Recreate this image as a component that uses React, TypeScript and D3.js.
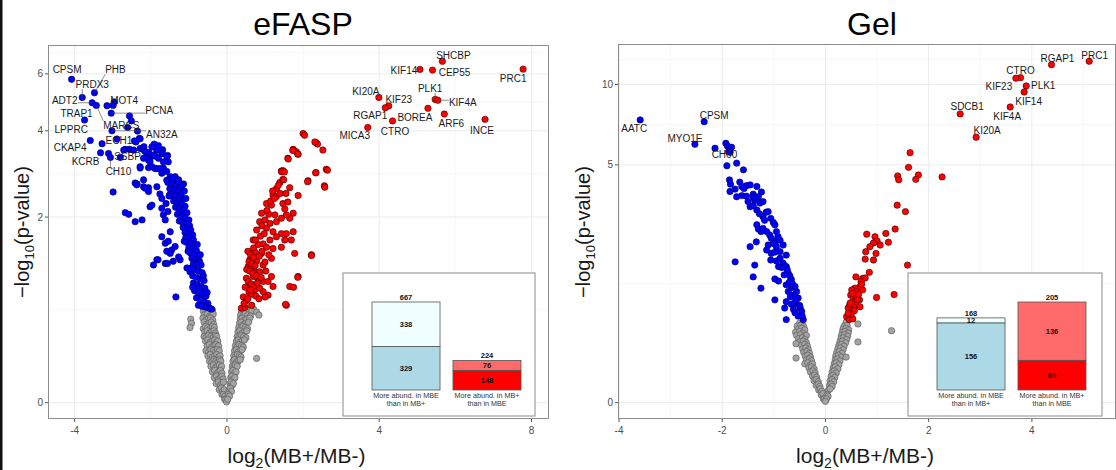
import {useEffect, useRef} from 'react';
import * as d3 from 'd3';

// eFASP: blue = more abundant in MB-, red = more abundant in MB+, grey = not significant
const efaspDown = [
	[-3.15,4.80],[-2.96,4.93],[-2.56,4.46],[-2.51,4.30],[-2.61,4.10],[-2.35,3.99],[-2.30,3.78],[-2.43,3.71],[-2.39,3.68],[-2.80,3.27],
	[-2.67,3.48],[-2.56,3.48],[-2.28,3.50],[-2.19,3.47],[-1.88,3.52],[-1.69,3.47],[-1.56,3.32],[-1.88,3.30],[-2.01,3.28],[-2.11,3.29],
	[-2.28,3.01],[-2.06,3.02],[-1.84,3.00],[-1.67,3.01],[-2.36,2.65],[-2.19,2.59],[-2.06,2.57],[-1.84,2.59],[-1.58,2.73],[-1.40,2.77],
	[-1.32,2.70],[-1.14,2.65],[-2.99,2.48],[-1.76,2.44],[-1.50,2.43],[-1.91,3.62],[-2.18,3.55],[-1.80,3.58],[-2.05,3.40],[-1.70,3.38],
	[-2.71,3.46],[-2.45,3.46],[-2.28,3.77],[-2.19,3.50],[-2.15,3.42],[-1.97,3.55],[-1.84,3.46],[-1.93,3.33],[-1.71,3.37],[-1.80,3.25],
	[-1.58,3.29],[-1.67,3.16],[-1.54,3.16],[-2.28,3.04],[-2.19,3.25],[-2.06,3.20],[-2.02,3.16],[-1.97,3.04],[-1.89,3.00],[-1.75,3.00],
	[-1.71,2.89],[-1.58,2.93],[-1.49,2.81],[-1.45,2.78],[-1.41,2.70],[-1.36,2.81],[-1.27,2.74],[-1.23,2.63],[-2.41,2.67],[-2.19,2.74],
	[-2.15,2.56],[-2.06,2.49],[-2.37,2.63],[-2.67,2.08],[-2.58,2.05],[-2.41,1.92],[-2.23,1.95],[-2.02,2.19],[-1.97,2.22],[-1.71,2.35],
	[-1.71,2.16],[-1.67,2.04],[-1.62,1.95],
	[-1.55,2.68],[-1.45,2.65],[-1.35,2.62],[-1.25,2.58],[-1.50,2.55],[-1.40,2.52],[-1.30,2.48],[-1.20,2.45],[-1.45,2.42],[-1.35,2.40],
	[-1.25,2.36],[-1.15,2.33],[-1.40,2.30],[-1.30,2.27],[-1.20,2.24],[-1.10,2.20],[-1.35,2.18],[-1.25,2.15],[-1.15,2.12],[-1.05,2.08],
	[-1.30,2.05],[-1.20,2.02],[-1.10,1.98],[-1.00,1.95],[-1.25,1.93],[-1.15,1.90],[-1.05,1.88],[-0.98,1.85],[-1.52,2.40],[-1.60,2.25],
	[-1.12,2.50],[-1.18,2.62],[-1.42,2.78],[-1.28,2.70],[-1.08,2.35],[-1.55,2.10],
	[-1.15,1.82],[-1.05,1.80],[-0.95,1.78],[-1.10,1.74],[-1.00,1.72],[-0.90,1.70],[-1.08,1.66],[-0.98,1.64],[-0.88,1.62],[-1.05,1.58],
	[-0.95,1.56],[-0.85,1.54],[-1.00,1.50],[-0.90,1.48],[-0.80,1.46],[-0.95,1.42],[-0.85,1.40],[-0.75,1.38],[-0.92,1.35],[-0.82,1.33],
	[-0.72,1.31],[-0.88,1.28],[-0.78,1.27],[-0.68,1.26],[-1.02,1.45],[-1.12,1.60],[-0.70,1.40],[-0.78,1.55],
	[-1.71,1.67],[-1.62,1.57],[-1.54,1.60],[-1.49,1.75],[-1.45,1.47],[-1.36,1.52],[-1.58,1.45],[-1.49,1.42],[-1.84,1.33],[-1.93,1.26],
	[-1.62,1.28],[-1.41,1.31],[-1.23,1.33],[-1.27,1.37],[-1.05,1.22],[-0.97,1.17],[-1.81,1.33],[-1.56,1.28],[-1.34,0.87],
	[-0.95,1.22],[-0.85,1.20],[-0.75,1.18],[-0.65,1.16],[-0.90,1.12],[-0.80,1.10],[-0.70,1.08],[-0.60,1.06],[-0.88,1.03],[-0.78,1.01],
	[-0.68,0.99],[-0.58,0.97],[-0.85,0.94],[-0.75,0.92],[-0.65,0.90],[-0.55,0.88],[-0.80,0.86],[-0.70,0.84],[-0.60,0.82],[-0.50,0.80],
	[-0.75,0.78],[-0.65,0.77],[-0.55,0.76],[-0.45,0.75],[-0.40,0.74],[-0.90,0.98],[-0.62,1.12],[-0.52,0.92],[-0.72,0.96]
];
const efaspUp = [
	[2.00,3.92],[2.04,3.87],[2.34,3.66],[2.38,3.62],[2.52,3.46],[1.74,3.48],[1.82,3.42],[1.87,3.35],[1.60,3.25],[2.61,2.98],
	[2.34,2.90],[2.13,2.72],[2.56,2.61],[1.43,2.94],[1.47,2.95],[1.39,2.68],[1.47,2.75],[1.65,2.57],[1.21,2.42],[1.30,2.39],
	[1.87,2.41],[1.04,2.25],[1.17,2.22],[1.47,2.25],[1.60,2.28],[1.74,2.07],[1.65,1.98],[1.56,2.04],[1.43,1.98],[1.26,2.04],
	[0.91,2.07],[0.86,1.92],[1.13,1.89],[1.30,1.92],[1.04,1.81],[0.78,1.78],[1.21,1.75],[1.43,1.72],[1.56,1.72],[1.74,1.75],
	[1.69,1.62],[1.52,1.62],[1.30,1.67],[1.13,1.62],[0.69,1.62],[0.95,1.56],[1.04,1.51],[1.43,1.51],[1.21,1.49],[1.78,1.42],
	[2.22,1.40],[0.73,1.44],[0.91,1.42],[1.17,1.35],[0.60,1.33],[0.78,1.31],[0.95,1.26],[0.56,1.24],[0.65,1.22],[0.73,1.17],
	[0.86,1.17],[0.51,1.09],[0.69,1.11],[0.82,1.07],[0.95,1.05],[1.08,1.05],[1.17,1.11],[1.21,0.99],[1.87,1.11],[1.65,0.99],
	[0.60,0.99],[0.73,0.95],[0.95,0.93],[1.08,0.89],[0.43,0.87],[0.51,0.83],[0.65,0.78],[1.56,0.78],[0.38,0.75],[0.47,0.76],
	[1.00,0.87],[0.86,0.97],
	[2.31,3.68],[1.73,3.45],[1.86,3.36],[1.61,3.23],[2.64,2.96],[2.33,2.90],[2.12,2.70],[2.57,2.58],[1.44,2.92],[1.51,2.92],
	[1.49,2.74],[2.22,1.39],[1.86,1.10],[1.75,0.98],[1.54,0.79],
	[0.55,1.45],[0.62,1.40],[0.70,1.36],[0.58,1.30],[0.66,1.28],[0.74,1.25],[0.52,1.20],[0.60,1.18],[0.68,1.15],[0.78,1.12],
	[0.56,1.05],[0.64,1.02],[0.72,1.00],[0.80,1.03],[0.48,0.98],[0.58,0.92],[0.66,0.90],[0.76,0.88],[0.84,0.85],[0.90,1.10],
	[0.70,1.50],[0.82,1.55],[0.88,1.68],[0.98,1.72],[0.75,1.62],[0.92,1.85],[1.00,1.95],[1.10,2.05],[1.05,2.12],[1.15,2.30],
	[1.25,2.35],[1.30,2.55],[1.35,2.62],[1.20,2.50],[1.40,2.45],[1.55,2.45],[1.52,2.15],[1.10,1.40],[1.00,1.30],[0.85,1.38],
	[1.02,1.18],[0.92,1.45],[0.45,0.80],[0.55,0.85],[0.62,0.95]
];
const efaspNs = [
	[-0.62,0.72],[-0.55,0.73],[-0.48,0.71],[-0.42,0.72],[-0.38,0.73],
	[-0.60,0.68],[-0.52,0.69],[-0.45,0.67],[-0.40,0.68],[-0.36,0.69],
	[-0.95,0.64],[-0.63,0.65],[-0.56,0.63],[-0.49,0.64],[-0.43,0.65],[-0.37,0.63],
	[-0.93,0.60],[-0.60,0.61],[-0.53,0.59],[-0.47,0.60],[-0.41,0.61],[-0.35,0.59],
	[-0.97,0.56],[-0.62,0.55],[-0.56,0.57],[-0.50,0.56],[-0.44,0.55],[-0.38,0.57],[-0.33,0.56],
	[-0.58,0.52],[-0.52,0.53],[-0.46,0.51],[-0.40,0.52],[-0.34,0.53],[-0.30,0.51],
	[-0.60,0.48],[-0.55,0.47],[-0.48,0.49],[-0.42,0.48],[-0.36,0.47],[-0.30,0.49],[-0.27,0.48],
	[-0.56,0.44],[-0.50,0.45],[-0.44,0.43],[-0.38,0.44],[-0.32,0.45],[-0.27,0.43],[-0.24,0.44],
	[-0.52,0.40],[-0.46,0.41],[-0.40,0.39],[-0.34,0.40],[-0.29,0.41],[-0.24,0.39],[-0.22,0.40],
	[-0.55,0.36],[-0.48,0.35],[-0.42,0.37],[-0.36,0.36],[-0.30,0.35],[-0.25,0.37],[-0.20,0.36],
	[-0.50,0.32],[-0.44,0.33],[-0.38,0.31],[-0.32,0.32],[-0.27,0.33],[-0.22,0.31],[-0.18,0.32],
	[-0.46,0.28],[-0.40,0.27],[-0.34,0.29],[-0.29,0.28],[-0.24,0.27],[-0.19,0.29],[-0.16,0.28],
	[-0.42,0.24],[-0.36,0.25],[-0.30,0.23],[-0.25,0.24],[-0.20,0.25],[-0.16,0.23],[-0.14,0.24],
	[-0.38,0.20],[-0.32,0.21],[-0.26,0.19],[-0.21,0.20],[-0.17,0.21],[-0.13,0.19],
	[-0.33,0.16],[-0.27,0.17],[-0.22,0.15],[-0.17,0.16],[-0.13,0.17],[-0.10,0.15],
	[-0.28,0.12],[-0.22,0.13],[-0.17,0.11],[-0.13,0.12],[-0.09,0.13],
	[-0.20,0.08],[-0.15,0.09],[-0.11,0.07],[-0.07,0.08],
	[-0.13,0.05],[-0.09,0.05],[-0.05,0.04],
	[-0.06,0.02],[-0.03,0.02],[-0.01,0.005],
	[0.40,0.74],[0.45,0.73],[0.52,0.74],[0.60,0.73],[0.70,0.74],
	[0.38,0.71],[0.44,0.72],[0.50,0.70],[0.57,0.71],[0.65,0.72],[0.78,0.71],
	[0.36,0.68],[0.42,0.67],[0.48,0.69],[0.55,0.68],[0.62,0.67],[0.84,0.68],
	[0.35,0.64],[0.40,0.65],[0.46,0.63],[0.52,0.64],[0.60,0.65],
	[0.33,0.60],[0.38,0.61],[0.44,0.59],[0.50,0.60],[0.57,0.61],
	[0.31,0.56],[0.36,0.55],[0.42,0.57],[0.48,0.56],[0.54,0.55],
	[0.29,0.52],[0.34,0.53],[0.40,0.51],[0.46,0.52],[0.52,0.53],
	[0.27,0.48],[0.32,0.47],[0.38,0.49],[0.44,0.48],[0.50,0.47],
	[0.25,0.44],[0.30,0.45],[0.35,0.43],[0.41,0.44],[0.46,0.45],
	[0.22,0.40],[0.27,0.39],[0.32,0.41],[0.38,0.40],[0.43,0.39],
	[0.20,0.36],[0.25,0.37],[0.30,0.35],[0.35,0.36],[0.40,0.37],
	[0.18,0.32],[0.23,0.31],[0.28,0.33],[0.33,0.32],[0.37,0.31],[0.78,0.30],
	[0.16,0.28],[0.20,0.29],[0.25,0.27],[0.30,0.28],[0.35,0.29],
	[0.14,0.24],[0.18,0.23],[0.22,0.25],[0.27,0.24],
	[0.12,0.20],[0.16,0.21],[0.20,0.19],[0.24,0.20],
	[0.10,0.16],[0.13,0.17],[0.17,0.15],[0.21,0.16],
	[0.08,0.12],[0.11,0.13],[0.14,0.11],[0.17,0.12],
	[0.06,0.08],[0.09,0.09],[0.12,0.07],
	[0.04,0.05],[0.07,0.04],[0.02,0.02]
];
const efaspLabeled = [
	['CPSM',-4.08,5.78],['PHB',-3.48,5.26],['PRDX3',-3.80,5.09],['ADT2',-3.54,4.90],['MARCS',-3.43,4.81],
	['MOT4',-2.99,4.81],['PCNA',-3.04,4.55],['TRAP1',-3.74,4.33],['LPPRC',-3.59,3.72],['CKAP4',-3.28,3.63],
	['KCRB',-3.32,3.39],['AN32A',-3.02,4.00],['ECH1',-2.89,3.76],['SSBP',-3.11,3.37],['CH10',-3.06,3.27],
	['SHCBP',5.66,6.54],['KIF14',5.07,6.19],['CEP55',5.40,6.16],['PRC1',7.78,6.20],['KI20A',3.99,5.09],
	['KIF23',4.25,4.79],['RGAP1',4.16,4.73],['PLK1',5.47,5.02],['KIF4A',5.54,4.99],['BOREA',5.28,4.71],
	['ARF6',5.71,4.52],['CTRO',4.35,4.30],['INCE',6.78,4.35],['MICA3',3.70,4.10]
];

// Gel
const gelDown = [
	[-2.14,5.80],[-1.93,6.06],[-1.90,5.92],[-1.82,5.85],[-1.85,5.60],[-1.91,4.96],[-1.72,5.08],[-1.59,4.78],[-1.86,4.36],[-1.84,4.19],
	[-1.85,3.91],[-1.75,4.00],[-1.66,4.27],[-1.62,4.10],[-1.53,4.13],[-1.46,4.16],[-1.33,4.10],[-1.24,3.89],[-1.72,3.72],[-1.62,3.76],
	[-1.53,3.74],[-1.40,3.81],[-1.37,3.60],[-1.30,3.72],[-1.50,3.55],[-1.46,3.38],[-1.40,3.41],[-1.27,3.50],[-1.21,3.55],[-1.33,3.27],
	[-1.15,3.20],[-1.11,3.22],[-1.06,3.01],[-1.21,3.06],[-1.01,2.89],[-0.98,2.82],[-1.33,2.82],[-1.30,2.70],[-1.25,2.63],[-1.21,2.72],
	[-1.14,2.63],[-1.08,2.54],[-0.95,2.63],[-1.05,2.45],[-0.98,2.36],[-1.11,2.28],[-1.01,2.32],[-0.95,2.24],[-0.82,2.28],[-1.34,2.36],
	[-1.46,2.24],[-1.14,2.16],[-1.05,2.08],[-0.98,2.11],[-0.88,2.12],[-0.76,2.04],[-1.06,1.93],[-0.95,1.91],[-0.88,1.97],[-0.82,1.86],
	[-0.91,1.79],[-0.85,1.77],[-0.76,1.79],[-1.75,1.89],[-1.37,1.82],[-1.40,1.58],[-1.25,1.37],[-0.98,1.54],[-0.91,1.50],[-0.72,1.65],
	[-0.69,1.60],[-0.66,1.53],[-0.76,1.43],[-0.66,1.38],[-0.59,1.40],[-0.56,1.31],[-0.72,1.31],[-0.62,1.25],[-0.53,1.20],[-0.98,1.17],
	[-0.76,1.14],[-0.56,1.11],[-0.49,1.04],[-0.62,1.02],[-0.46,0.99],[-0.79,1.04],[-0.59,0.97],[-0.43,0.87],[-0.76,0.87],[-0.53,0.92],
	[-0.70,1.48],[-0.64,1.45],[-0.80,1.62],[-0.74,1.72],[-0.68,1.22],[-0.50,1.08],[-0.58,1.16],[-0.88,2.40],[-0.92,2.50],[-1.18,2.95],
	[-1.28,3.15],[-1.40,3.70],[-1.58,4.02],[-0.66,1.10],[-0.45,0.92]
];
const gelUp = [
	[1.64,5.58],[1.61,4.89],[1.40,4.52],[1.42,4.36],[1.80,4.56],[1.75,4.38],[2.26,4.48],[1.39,3.43],[1.55,3.22],[1.35,2.70],
	[1.17,2.58],[1.22,2.35],[0.80,2.56],[0.96,2.49],[1.00,2.38],[0.93,2.33],[0.86,2.24],[1.06,2.28],[0.98,2.08],[0.78,2.12],
	[0.93,1.93],[0.77,1.95],[1.59,1.82],[0.85,1.67],[0.72,1.55],[0.77,1.56],[0.69,1.49],[0.59,1.58],[0.67,1.40],[0.57,1.37],
	[0.51,1.34],[0.49,1.25],[0.54,1.20],[0.60,1.22],[0.57,1.14],[0.66,1.17],[0.59,1.09],[0.67,1.06],[0.54,1.06],[0.44,1.04],
	[0.49,0.91],[0.41,0.91],[0.46,0.87],[0.53,0.88],[0.99,1.21],[1.33,1.26],[0.47,1.09],[0.60,1.31],[0.72,1.34],
	[0.52,1.28],[0.62,1.18],[0.48,1.12],[0.56,1.00],[0.64,1.26],[0.70,1.44],[0.50,0.95],[0.44,0.96]
];
const gelNs = [
	[-0.50,0.82],[-0.45,0.81],[0.40,0.83],[0.63,0.81],
	[-0.55,0.78],[-0.48,0.79],[-0.42,0.77],[0.36,0.78],[0.42,0.79],
	[-0.52,0.74],[-0.46,0.75],[-0.40,0.73],[0.34,0.74],[0.40,0.75],[0.45,0.73],[1.28,0.72],
	[-0.58,0.70],[-0.50,0.71],[-0.44,0.69],[0.33,0.70],[0.38,0.71],[0.44,0.69],
	[-0.56,0.66],[-0.48,0.67],[-0.42,0.65],[-0.37,0.66],[0.31,0.66],[0.37,0.67],[0.43,0.65],
	[-0.52,0.62],[-0.45,0.63],[-0.40,0.61],[0.30,0.62],[0.35,0.63],[0.41,0.61],
	[-0.50,0.58],[-0.43,0.59],[-0.37,0.57],[0.28,0.58],[0.33,0.59],[0.39,0.57],[0.63,0.58],[-0.57,0.56],
	[-0.46,0.54],[-0.40,0.55],[-0.35,0.53],[0.26,0.54],[0.31,0.55],[0.36,0.53],
	[-0.44,0.50],[-0.38,0.51],[-0.33,0.49],[0.24,0.50],[0.29,0.51],[0.34,0.49],
	[-0.42,0.46],[-0.36,0.47],[-0.31,0.45],[0.22,0.46],[0.27,0.47],[0.32,0.45],
	[-0.39,0.42],[-0.34,0.43],[-0.29,0.41],[0.20,0.42],[0.25,0.43],[0.30,0.41],[-0.57,0.40],[0.40,0.41],
	[-0.37,0.38],[-0.31,0.39],[-0.27,0.37],[0.19,0.38],[0.23,0.39],[0.28,0.37],
	[-0.40,0.34],[-0.34,0.35],[-0.29,0.33],[-0.25,0.34],[0.17,0.34],[0.21,0.35],[0.26,0.33],
	[-0.32,0.30],[-0.27,0.31],[-0.22,0.29],[0.15,0.30],[0.19,0.31],[0.24,0.29],
	[-0.29,0.26],[-0.24,0.27],[-0.20,0.25],[0.13,0.26],[0.17,0.27],[0.21,0.25],
	[-0.25,0.22],[-0.21,0.23],[-0.17,0.21],[0.11,0.22],[0.15,0.23],[0.18,0.21],
	[-0.22,0.18],[-0.18,0.19],[-0.14,0.17],[0.09,0.18],[0.13,0.19],[0.16,0.17],
	[-0.18,0.14],[-0.14,0.15],[-0.11,0.13],[0.08,0.14],[0.11,0.15],[0.13,0.13],
	[-0.13,0.10],[-0.10,0.11],[-0.07,0.09],[0.06,0.10],[0.09,0.11],
	[-0.08,0.06],[-0.05,0.07],[0.03,0.06],[0.05,0.05],
	[-0.04,0.03],[-0.02,0.03],[0.02,0.03],[0.00,0.01]
];
const gelLabeled = [
	['AATC',-3.59,7.42],['CPSM',-2.35,7.31],['MYO1E',-2.53,6.01],['CH60',-1.88,5.63],
	['PRC1',5.11,12.1],['RGAP1',4.38,11.77],['CTRO',3.78,10.58],['KIF23',3.69,10.53],['PLK1',3.89,9.88],
	['KIF14',3.85,9.39],['KIF4A',3.58,8.28],['SDCB1',2.61,7.81],['KI20A',2.92,6.39]
];

// inset bar charts
const insetCats = ['More abund. in MBE|than in MB+', 'More abund. in MB+|than in MBE'];
const efaspSig = [329, 148];
const efaspRest = [338, 76];
const gelSig = [156, 69];
const gelRest = [12, 136];

// axis ticks
const efaspXTicks = [-4, 0, 4, 8];
const efaspYTicks = [0, 2, 4, 6];
const gelXTicks = [-4, -2, 0, 2, 4];
const gelYTicks = [0, 5, 10];

// label placement (px offset of the label centre from its point, and whether a segment is drawn)
const efaspLabelPos = {
	CPSM: [-4.5, -10, 0], PHB: [21, -23, 1], PRDX3: [10, -13, 1], ADT2: [-27.5, -2.7, 1], MARCS: [25, 20, 1]
	, MOT4: [11, -5, 0], PCNA: [48, -3, 1], TRAP1: [-8, -6, 0], LPPRC: [-19, -11, 0], CKAP4: [-32, 4, 0]
	, KCRB: [-15, 9, 0], AN32A: [50, 4, 1], ECH1: [2, 1, 0], SSBP: [19, 3, 0], CH10: [8, 14, 1]
	, SHCBP: [11, -6, 0], KIF14: [-16, 1, 0], CEP55: [22, 2, 0], PRC1: [-10, 9, 0], KI20A: [-13, -6, 0]
	, KIF23: [10, -6, 0], RGAP1: [-15, 8, 0], PLK1: [-5, -11, 1], KIF4A: [25, 2, 1], BOREA: [-13, 9, 0]
	, ARF6: [7, 9, 0], CTRO: [2.5, 11, 0], INCE: [-3, 11, 0], MICA3: [-13, 8, 0]
};
const gelLabelPos = {
	AATC: [-6, 9, 0], CPSM: [10, -6, 0], MYO1E: [-10, -6, 0], CH60: [-4, 3, 0]
	, PRC1: [5.5, -6, 0], RGAP1: [6, -6, 0], CTRO: [0, -7, 0], KIF23: [-17, 8, 0], PLK1: [17, 0, 0]
	, KIF14: [4.5, 9, 0], KIF4A: [-3, 9, 0], SDCB1: [7, -7, 0], KI20A: [11, -7, 0]
};

const FONT = '"Liberation Sans", Arial, Helvetica, sans-serif';

function renderPanel(svg, o){
	let [x0, y0, x1, y1] = o.box
		, x = d3.scaleLinear().domain(o.xDomain).range([x0, x1])
		, y = d3.scaleSymlog().constant(1).domain(o.yDomain).range([y1, y0])
		, g = svg.append('g')
		, xStep = o.xTicks[1] - o.xTicks[0]
		, yStep = o.yTicks[1] - o.yTicks[0]
		, xMinor = [o.xTicks[0] - xStep, ...o.xTicks].map((t)=>x(t + xStep /2)).filter((p)=>p > x0 && p < x1)
		, yMinor = [...o.yTicks].map((t)=>(y(t) + y(t + yStep)) /2).filter((p)=>p > y0 && p < y1)
		;

	// grid
	g.selectAll('line.minx').data(xMinor).enter().append('line')
		.attr('x1', (d)=>d).attr('x2', (d)=>d).attr('y1', y0).attr('y2', y1)
		.attr('stroke', '#f2f2f2').attr('stroke-width', 0.6);
	g.selectAll('line.miny').data(yMinor).enter().append('line')
		.attr('x1', x0).attr('x2', x1).attr('y1', (d)=>d).attr('y2', (d)=>d)
		.attr('stroke', '#f2f2f2').attr('stroke-width', 0.6);
	g.selectAll('line.majx').data(o.xTicks).enter().append('line')
		.attr('x1', (d)=>x(d)).attr('x2', (d)=>x(d)).attr('y1', y0).attr('y2', y1)
		.attr('stroke', '#ebebeb').attr('stroke-width', 1);
	g.selectAll('line.majy').data(o.yTicks).enter().append('line')
		.attr('x1', x0).attr('x2', x1).attr('y1', (d)=>y(d)).attr('y2', (d)=>y(d))
		.attr('stroke', '#ebebeb').attr('stroke-width', 1);

	// points
	let dots = (data, fill, stroke)=>{
		g.append('g').selectAll('circle').data(data).enter().append('circle')
			.attr('cx', (d)=>x(d[0])).attr('cy', (d)=>y(d[1])).attr('r', 3.2)
			.attr('fill', fill).attr('stroke', stroke).attr('stroke-width', 0.6);
	};
	dots(o.ns, '#a3a3a3', '#555');
	dots(o.down, '#0000ff', '#00005a');
	dots(o.up, '#ff0000', '#3a0000');
	dots(o.labeled.map((d)=>[d[1], d[2]]).filter((d)=>d[0] < 0), '#0000ff', '#00005a');
	dots(o.labeled.map((d)=>[d[1], d[2]]).filter((d)=>d[0] > 0), '#ff0000', '#3a0000');

	// labels
	let lg = g.append('g');
	o.labeled.forEach((d)=>{
		let px = x(d[1])
			, py = y(d[2])
			, pos = o.labelPos[d[0]] || [0, -8, 0]
			, t = lg.append('text').attr('x', px + pos[0]).attr('y', py + pos[1])
				.attr('text-anchor', 'middle').attr('dominant-baseline', 'central')
				.attr('font-family', FONT).attr('font-size', 10).attr('fill', '#1a1a1a').text(d[0])
			;

		if( pos[2] ){
			let b = t.node().getBBox()
				, cx = Math.max(b.x, Math.min(px, b.x + b.width))
				, cy = Math.max(b.y + 1, Math.min(py, b.y + b.height - 1))
				;
			lg.insert('line', 'text').attr('x1', px).attr('y1', py).attr('x2', cx).attr('y2', cy)
				.attr('stroke', '#444').attr('stroke-width', 0.6);
		}
	});

	// inset
	let ib = o.inset
		, ig = g.append('g')
		, totals = o.sig.map((s, i)=>s + o.rest[i])
		, bx = d3.scaleBand().domain(insetCats).range([ib.x + 29, ib.x + 178]).paddingInner(0.16)
		, by = d3.scaleLinear().domain([0, d3.max(totals)]).range([ib.y + 117, ib.y + 29])
		, lowFill = ['#add8e6', '#ff0000']
		, highFill = ['#f0ffff', '#ff6a6a']
		;

	ig.append('rect').attr('x', ib.x).attr('y', ib.y).attr('width', ib.w).attr('height', ib.h)
		.attr('fill', '#fff').attr('stroke', '#a6a6a6').attr('stroke-width', 1.3);
	insetCats.forEach((c, i)=>{
		let s = o.sig[i]
			, tot = totals[i]
			, bw = bx.bandwidth()
			, cx = bx(c) + bw /2
			;
		ig.append('rect').attr('x', bx(c)).attr('y', by(tot)).attr('width', bw).attr('height', by(s) - by(tot))
			.attr('fill', highFill[i]).attr('stroke', '#555').attr('stroke-width', 0.8);
		ig.append('rect').attr('x', bx(c)).attr('y', by(s)).attr('width', bw).attr('height', by(0) - by(s))
			.attr('fill', lowFill[i]).attr('stroke', '#555').attr('stroke-width', 0.8);

		let lab = (yy, txt)=>ig.append('text').attr('x', cx).attr('y', yy)
			.attr('text-anchor', 'middle').attr('dominant-baseline', 'central')
			.attr('font-family', FONT).attr('font-size', 7.5).attr('font-weight', 'bold').attr('fill', '#111').text(txt);
		lab(by(tot) - 4.5, tot);
		lab((by(s) + by(tot)) /2, o.rest[i]);
		lab((by(0) + by(s)) /2, s);

		// two-line category label
		c.split('|').forEach((line, k)=>{
			ig.append('text').attr('x', cx).attr('y', by(0) + 8 + k *8.2).attr('text-anchor', 'middle')
				.attr('font-family', FONT).attr('font-size', 7.2).attr('fill', '#333').text(line);
		});
	});

	// border
	g.append('rect').attr('x', x0 + 0.5).attr('y', y0 + 0.5).attr('width', x1 - x0 - 1).attr('height', y1 - y0 - 1)
		.attr('fill', 'none').attr('stroke', '#8c8c8c').attr('stroke-width', 1);

	// axes
	g.selectAll('line.tx').data(o.xTicks).enter().append('line')
		.attr('x1', (d)=>x(d)).attr('x2', (d)=>x(d)).attr('y1', y1).attr('y2', y1 + 3)
		.attr('stroke', '#555');
	g.selectAll('text.tx').data(o.xTicks).enter().append('text')
		.attr('x', (d)=>x(d)).attr('y', y1 + 11).attr('text-anchor', 'middle').attr('dominant-baseline', 'central')
		.attr('font-family', FONT).attr('font-size', 10).attr('fill', '#4d4d4d').text((d)=>String(d));
	g.selectAll('line.ty').data(o.yTicks).enter().append('line')
		.attr('x1', x0 - 3).attr('x2', x0).attr('y1', (d)=>y(d)).attr('y2', (d)=>y(d))
		.attr('stroke', '#555');
	g.selectAll('text.ty').data(o.yTicks).enter().append('text')
		.attr('x', x0 - 5).attr('y', (d)=>y(d)).attr('text-anchor', 'end').attr('dominant-baseline', 'central')
		.attr('font-family', FONT).attr('font-size', 10).attr('fill', '#4d4d4d').text((d)=>String(d));

	// titles
	g.append('text').attr('x', o.titleX).attr('y', 35).attr('text-anchor', 'middle')
		.attr('font-family', FONT).attr('font-size', 32).attr('fill', '#000').text(o.title);

	let xt = g.append('text').attr('x', (x0 + x1) /2 - 2).attr('y', 463).attr('text-anchor', 'middle')
		.attr('font-family', FONT).attr('font-size', 21).attr('fill', '#1a1a1a');
	xt.append('tspan').text('log');
	xt.append('tspan').attr('font-size', 14).attr('dy', 5).text('2');
	xt.append('tspan').attr('dy', -5).text('(MB+/MB-)');

	let yt = g.append('text').attr('transform', `translate(${o.yTitleX},232) rotate(-90)`)
		.attr('text-anchor', 'middle').attr('dy', '0.35em')
		.attr('font-family', FONT).attr('font-size', 20).attr('fill', '#1a1a1a');
	yt.append('tspan').text('\u2212log');
	yt.append('tspan').attr('font-size', 13).attr('dy', 5).text('10');
	yt.append('tspan').attr('dy', -5).text('(p-value)');
}

export default function App(){
	const ref = useRef(null);

	useEffect(()=>{
		let svg = d3.select(ref.current);
		svg.selectAll('*').remove();

		svg.append('rect').attr('width', 1116).attr('height', 470).attr('fill', '#fff');
		svg.append('rect').attr('x', 0).attr('y', 0).attr('width', 2.5).attr('height', 470).attr('fill', '#111');

		renderPanel(svg, {
			title: 'eFASP'
			, titleX: 303
			, yTitleX: 22
			, box: [48, 45, 549, 419]
			, xDomain: [-4.70, 8.46]
			, yDomain: [-0.1012, 7.306]
			, xTicks: efaspXTicks
			, yTicks: efaspYTicks
			, down: efaspDown
			, up: efaspUp
			, ns: efaspNs
			, labeled: efaspLabeled
			, labelPos: efaspLabelPos
			, inset: {x: 343, y: 273, w: 192, h: 143}
			, sig: efaspSig
			, rest: efaspRest
		});
		renderPanel(svg, {
			title: 'Gel'
			, titleX: 872
			, yTitleX: 583
			, box: [618, 44, 1116, 419]
			, xDomain: [-4.02, 5.63]
			, yDomain: [-0.1309, 13.92]
			, xTicks: gelXTicks
			, yTicks: gelYTicks
			, down: gelDown
			, up: gelUp
			, ns: gelNs
			, labeled: gelLabeled
			, labelPos: gelLabelPos
			, inset: {x: 908, y: 273, w: 194, h: 143}
			, sig: gelSig
			, rest: gelRest
		});
	}, []);

	return (<svg ref={ref}
	             width={1116}
	             height={470}
	             style={{position: 'absolute', left: 0, top: 0, display: 'block'}}></svg>);
}
